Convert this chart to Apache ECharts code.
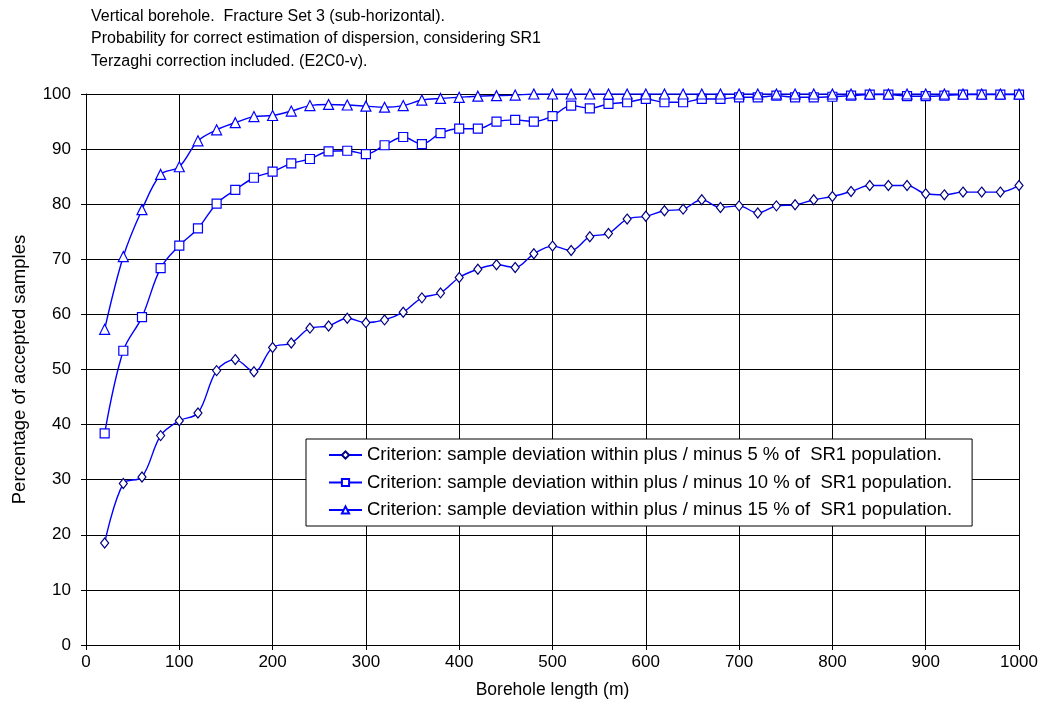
<!DOCTYPE html>
<html>
<head>
<meta charset="utf-8">
<script src="https://cdn.jsdelivr.net/npm/echarts@6/dist/echarts.min.js"></script>
<style>
  html, body { margin: 0; padding: 0; background: #fff; }
  #chart { width: 1040px; height: 706px; }
</style>
</head>
<body>
<div id="chart"></div>
<script>
// Borehole lengths (m)
var lengths = [20, 40, 60, 80, 100, 120, 140, 160, 180, 200,
  220, 240, 260, 280, 300, 320, 340, 360, 380, 400,
  420, 440, 460, 480, 500, 520, 540, 560, 580, 600,
  620, 640, 660, 680, 700, 720, 740, 760, 780, 800,
  820, 840, 860, 880, 900, 920, 940, 960, 980, 1000];

// Percentage of accepted samples, +/- 5 % criterion
var within5 = [18.5, 29.3, 30.5, 38.0, 40.7, 42.1, 49.8, 51.8, 49.6, 54.0,
  54.8, 57.5, 57.9, 59.3, 58.5, 59.0, 60.4, 63.0, 63.9, 66.7,
  68.2, 69.0, 68.5, 71.0, 72.4, 71.6, 74.1, 74.7, 77.3, 77.8,
  78.8, 79.1, 80.8, 79.4, 79.7, 78.4, 79.7, 79.9, 80.8, 81.4,
  82.3, 83.4, 83.4, 83.4, 81.9, 81.7, 82.2, 82.2, 82.2, 83.4];

// +/- 10 % criterion
var within10 = [38.4, 53.4, 59.5, 68.4, 72.5, 75.6, 80.1, 82.6, 84.8, 85.9,
  87.4, 88.2, 89.6, 89.7, 89.1, 90.7, 92.2, 90.9, 92.9, 93.7,
  93.7, 95.0, 95.3, 95.0, 96.0, 97.9, 97.4, 98.2, 98.5, 99.1,
  98.5, 98.5, 99.1, 99.1, 99.4, 99.4, 99.7, 99.4, 99.4, 99.5,
  99.7, 99.9, 99.9, 99.6, 99.6, 99.7, 99.9, 99.9, 99.9, 99.9];

// +/- 15 % criterion
var within15 = [57.3, 70.5, 79.0, 85.4, 86.8, 91.5, 93.5, 94.8, 95.9, 96.1,
  96.9, 97.9, 98.1, 98.0, 97.8, 97.6, 97.9, 98.9, 99.2, 99.4,
  99.6, 99.7, 99.8, 100, 100, 100, 100, 100, 100, 100,
  100, 100, 100, 100, 100, 100, 100, 100, 100, 100,
  100, 100, 100, 100, 100, 100, 100, 100, 100, 100];

var seriesNames = [
  'Criterion: sample deviation within plus / minus 5 % of  SR1 population.',
  'Criterion: sample deviation within plus / minus 10 % of  SR1 population.',
  'Criterion: sample deviation within plus / minus 15 % of  SR1 population.'
];

var titleLines = [
  'Vertical borehole.  Fracture Set 3 (sub-horizontal).',
  'Probability for correct estimation of dispersion, considering SR1',
  'Terzaghi correction included. (E2C0-v).'
];

function pairs(values) {
  return lengths.map(function (x, i) { return [x, values[i]]; });
}

var FONT = 'Arial, "Liberation Sans", Helvetica, sans-serif';

function lineSeries(name, values, symbol, size, markColor) {
  return {
    name: name,
    type: 'line',
    data: pairs(values),
    smooth: 0.35,
    symbol: symbol,
    symbolSize: size,
    showAllSymbol: true,
    lineStyle: { color: '#0000ff', width: 1.4 },
    itemStyle: { color: '#ffffff', borderColor: markColor, borderWidth: 1.2 },
    emphasis: { disabled: true },
    z: 3
  };
}

var chart = echarts.init(document.getElementById('chart'), null, { renderer: 'canvas' });
chart.setOption({
  animation: false,
  backgroundColor: '#ffffff',
  textStyle: { fontFamily: FONT },
  title: {
    text: titleLines.join('\n'),
    left: 86,
    top: 0,
    textStyle: { fontFamily: FONT, fontSize: 16, fontWeight: 'normal', color: '#000', lineHeight: 22.5 }
  },
  grid: { left: 86, right: 21, top: 94, bottom: 61, containLabel: false, outerBoundsMode: 'none', show: false },
  legend: {
    orient: 'vertical',
    left: 306,
    top: 439,
    padding: [6, 20, 6, 22],
    itemWidth: 33,
    itemHeight: 9,
    itemGap: 7.5,
    backgroundColor: '#ffffff',
    borderColor: '#000000',
    borderWidth: 1,
    borderRadius: 0,
    textStyle: { fontFamily: FONT, fontSize: 18.5, color: '#000', lineHeight: 20 },
    data: seriesNames,
    z: 10
  },
  xAxis: {
    type: 'value',
    min: 0,
    max: 1000,
    interval: 100,
    name: 'Borehole length (m)',
    nameLocation: 'middle',
    nameGap: 36,
    nameTextStyle: { fontFamily: FONT, fontSize: 17.5, color: '#000' },
    axisLine: { show: true, lineStyle: { color: '#000', width: 1 } },
    axisTick: { show: true, inside: false, length: 5, lineStyle: { color: '#000' } },
    axisLabel: { fontFamily: FONT, fontSize: 17, color: '#000', margin: 9, formatter: function (v) { return String(v); } },
    splitLine: { show: true, lineStyle: { color: '#000', width: 1 } }
  },
  yAxis: {
    type: 'value',
    min: 0,
    max: 100,
    interval: 10,
    name: 'Percentage of accepted samples',
    nameLocation: 'middle',
    nameGap: 57,
    nameTextStyle: { fontFamily: FONT, fontSize: 18.5, color: '#000' },
    axisLine: { show: true, lineStyle: { color: '#000', width: 1 } },
    axisTick: { show: true, inside: false, length: 5, lineStyle: { color: '#000' } },
    axisLabel: { fontFamily: FONT, fontSize: 17, color: '#000', margin: 15 },
    splitLine: { show: true, lineStyle: { color: '#000', width: 1 } }
  },
  series: [
    lineSeries(seriesNames[0], within5, 'diamond', [8, 10], '#000080'),
    lineSeries(seriesNames[1], within10, 'rect', 9, '#0000ff'),
    lineSeries(seriesNames[2], within15, 'triangle', 10, '#0000ff')
  ]
});
</script>
</body>
</html>
